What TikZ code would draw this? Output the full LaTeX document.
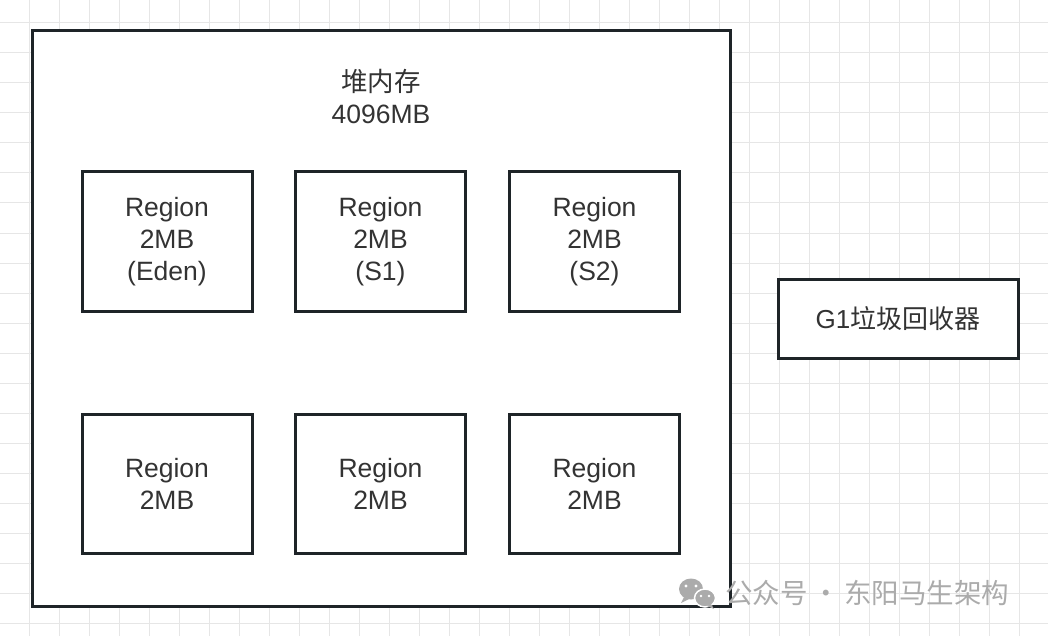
\documentclass[tikz,border=0pt]{standalone}
\usepackage{fontspec}
\setmainfont{Liberation Sans}
\newfontfamily\cjk{Noto Sans CJK SC}
\definecolor{edge}{HTML}{1E2428}
\definecolor{txt}{HTML}{333333}
\definecolor{gridc}{HTML}{E6E6E6}
\definecolor{wm}{HTML}{ABABAB}
\tikzset{
  box/.style={draw=edge, line width=3pt, fill=white, rectangle, inner sep=0pt},
  regionbox/.style={box, minimum width=170pt, minimum height=139pt, align=center, text=txt,
    font=\fontsize{26.5}{32}\selectfont},
  label/.style={align=center, text=txt, font=\fontsize{26.5}{32}\selectfont},
}
\begin{document}
\begin{tikzpicture}[x=1pt,y=-1pt]
\fill[white] (0,0) rectangle (1048,636);
\useasboundingbox (0,0) rectangle (1048,636);
% grid
\foreach \k in {0,...,34} { \draw[gridc, line width=1pt] ({29+30*\k},0) -- ({29+30*\k},636); }
\foreach \k in {0,...,20} { \draw[gridc, line width=1pt] (0,{23+30*\k}) -- (1048,{23+30*\k}); }
% heap
\node[box, minimum width=698pt, minimum height=575pt] (heap) at (381,318.5) {};
\node[label] (title) at (381,96.5) {{\cjk 堆内存}\\4096MB};
% regions
\node[regionbox] (r1) at (167,241.5) {Region\\2MB\\(Eden)};
\node[regionbox] (r2) at (380.5,241.5) {Region\\2MB\\(S1)};
\node[regionbox] (r3) at (594.5,241.5) {Region\\2MB\\(S2)};
\node[regionbox] (r4) at (167,483.5) {Region\\2MB};
\node[regionbox] (r5) at (380.5,483.5) {Region\\2MB};
\node[regionbox] (r6) at (594.5,483.5) {Region\\2MB};
% G1
\node[box, minimum width=240pt, minimum height=79pt, text=txt, font=\fontsize{26}{30}\selectfont] (g1) at (898,318.5) {G1{\cjk 垃圾回收器}};
% watermark
\fill[wm] (691,589) ellipse (12pt and 10.5pt);
\fill[wm] (684,597) -- (681,603) -- (689,599) -- cycle;
\fill[white] (686,586) circle (1.6pt) (696,586) circle (1.6pt);
\filldraw[wm, draw=white, line width=1.5pt] (705,598) ellipse (10.5pt and 9pt);
\fill[wm] (711,604) -- (714,609) -- (707,606) -- cycle;
\fill[white] (701,596) circle (1.4pt) (709,596) circle (1.4pt);
\node[anchor=west, text=wm, inner sep=0pt, font=\cjk\fontsize{27.5}{30}\selectfont] (wmtext) at (725,593) {公众号\,·\,东阳马生架构};
\end{tikzpicture}
\end{document}
